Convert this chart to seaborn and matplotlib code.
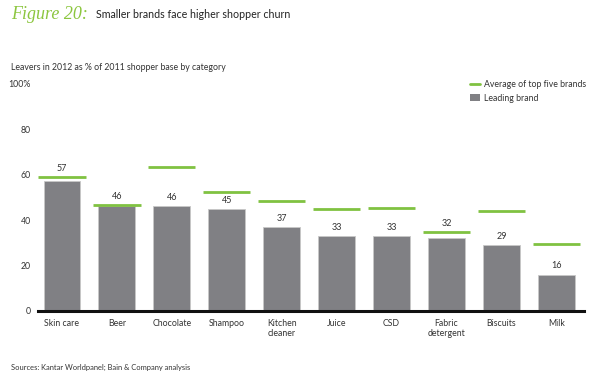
import matplotlib
matplotlib.use('Agg')
import matplotlib.pyplot as plt
import seaborn as sn
import pandas as pd
from matplotlib.lines import Line2D
from matplotlib.patches import Patch

categories = ['Skin care', 'Beer', 'Chocolate', 'Shampoo', 'Kitchen\ncleaner',
              'Juice', 'CSD', 'Fabric\ndetergent', 'Biscuits', 'Milk']
leading_brand = [57, 46, 46, 45, 37, 33, 33, 32, 29, 16]
top_five_avg = [59, 46.6, 63.4, 52.4, 48.4, 44.8, 45.4, 34.7, 44.1, 29.3]
yticks = [0, 20, 40, 60, 80, 100]
ytick_labels = ['0', '20', '40', '60', '80', '100%']

grey = '#808084'
green = '#80c241'
txt = '#333333'

sn.set_style('white')
plt.rcParams['font.family'] = ['Lato', 'DejaVu Sans']

df = pd.DataFrame({'category': categories, 'leading': leading_brand, 'avg': top_five_avg})

fig = plt.figure(figsize=(6, 3.82), dpi=100)
ax = fig.add_axes([0.063, 0.186, 0.91, 0.595])

sn.barplot(data=df, x='category', y='leading', color=grey, width=0.67,
           saturation=1, edgecolor='#c8c8c8', linewidth=0.6, ax=ax)

for i, (b, v) in enumerate(zip(df['leading'], df['avg'])):
    ax.hlines(v, i - 0.43, i + 0.43, color=green, linewidth=2)
    # label goes above the green line when the line sits close over the bar
    base = v if (v - b) < 5 else b
    ax.annotate(f'{b}', (i, base), xytext=(0, 3), textcoords='offset points',
                ha='center', va='bottom', fontsize=6.5, color=txt)

ax.set_xlim(-0.44, 9.5)
ax.set_ylim(0, 100)
ax.set_yticks(yticks)
ax.set_yticklabels(ytick_labels)
ax.set_xlabel('')
ax.set_ylabel('')
for s in ['top', 'right', 'left']:
    ax.spines[s].set_visible(False)
ax.spines['bottom'].set_linewidth(2.2)
ax.spines['bottom'].set_color('#111111')
ax.tick_params(axis='both', length=0, labelsize=6.3, colors=txt)
ax.tick_params(axis='x', pad=5.5)
ax.tick_params(axis='y', pad=5)

handles = [Line2D([0], [0], color=green, linewidth=2),
           Patch(facecolor=grey, edgecolor='none')]
fig.legend(handles, ['Average of top five brands', 'Leading brand'],
           loc='upper left', bbox_to_anchor=(0.77, 0.81), frameon=False,
           fontsize=6.3, handlelength=1.1, handleheight=0.9, handletextpad=0.5,
           labelspacing=0.5, labelcolor=txt)

fig.text(0.018, 0.963, 'Figure 20:', fontsize=13, color='#8cc63f',
         family=['Liberation Serif'], style='italic', va='center')
fig.text(0.16, 0.963, 'Smaller brands face higher shopper churn', fontsize=7.7,
         color='#222222', va='center')
fig.text(0.018, 0.822, 'Leavers in 2012 as % of 2011 shopper base by category',
         fontsize=6.3, color=txt, va='center')
fig.text(0.018, 0.037, 'Sources: Kantar Worldpanel; Bain & Company analysis',
         fontsize=5.4, color=txt, va='center')

fig.savefig('out.png', dpi=100)
